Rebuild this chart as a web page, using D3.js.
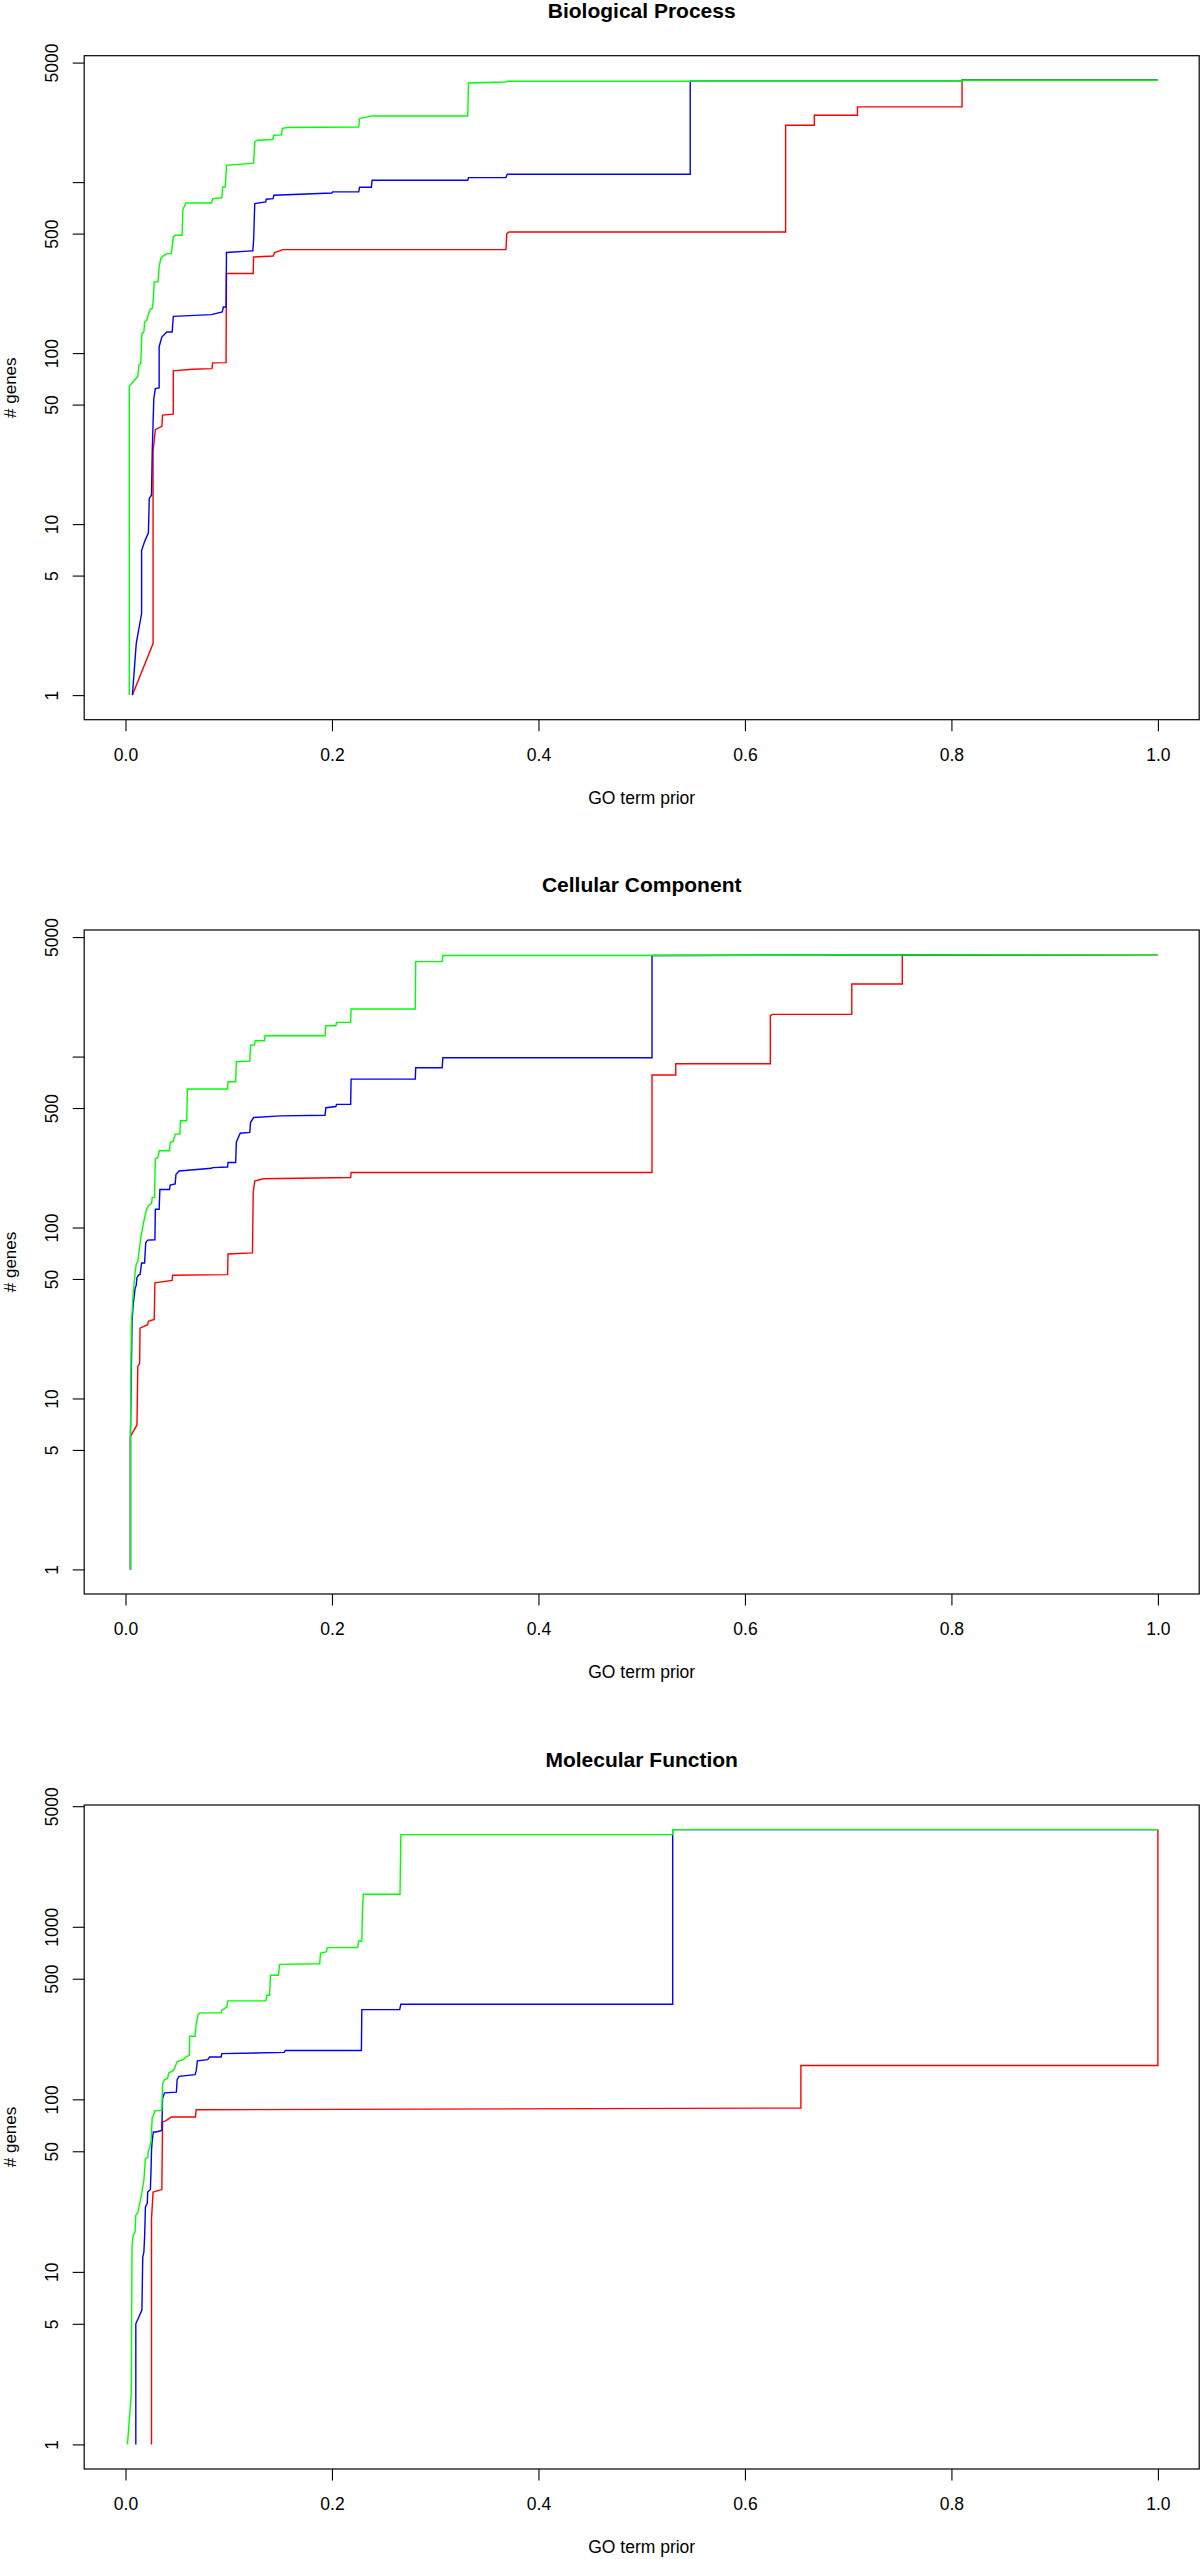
<!DOCTYPE html>
<html><head><meta charset="utf-8">
<script src="https://cdn.jsdelivr.net/npm/d3@7"></script>
<style>
body{margin:0;background:#fff}
svg text{font-family:"Liberation Sans",Arial,Helvetica,sans-serif;fill:#000}
</style>
</head><body>
<svg id="chart" width="1200" height="2559"></svg>
<script>
// ---------- text / ticks ----------
const panelTitles = ["Biological Process", "Cellular Component", "Molecular Function"];
const xAxisTitle = "GO term prior";
const yAxisTitle = "# genes";
const xTickValues = [0, 0.2, 0.4, 0.6, 0.8, 1.0];
const xTickLabels = ["0.0", "0.2", "0.4", "0.6", "0.8", "1.0"];
const yTickValues = [1, 5, 10, 50, 100, 500, 1000, 5000];
const yTickLabelsBP = ["1", "5", "10", "50", "100", "500", "", "5000"];
const yTickLabelsCC = ["1", "5", "10", "50", "100", "500", "", "5000"];
const yTickLabelsMF = ["1", "5", "10", "50", "100", "500", "1000", "5000"];
const seriesColors = ["#ff0000", "#0000ff", "#00ff00"]; // red, blue, green

// ---------- data: [GO term prior, # genes] ----------
// Biological Process
const bpRed = [[0.0067,1],[0.0267,2.0],[0.0267,26.5],[0.0289,35.7],[0.0352,37.3],[0.0359,43.4],[0.0463,44],[0.0463,78.7],[0.0648,80.5],[0.0837,81.2],[0.0844,87.7],[0.0974,88],[0.0978,292],[0.1237,292],[0.1241,365],[0.1430,370],[0.1444,387],[0.1511,400],[0.1519,403],[0.3685,403],[0.3693,500],[0.3715,511],[0.6394,511],[0.6394,2149],[0.6672,2149],[0.6672,2459],[0.709,2459],[0.709,2753],[0.8103,2753],[0.8103,3940],[1.0,3940]];
const bpBlue = [[0.0067,1],[0.0104,2.0],[0.0156,3.0],[0.0156,7.0],[0.0185,7.9],[0.0222,8.9],[0.023,14.1],[0.0252,14.8],[0.0259,26.5],[0.0267,38.7],[0.0274,54],[0.0289,62],[0.0326,62.6],[0.0326,109],[0.0352,124],[0.04,133],[0.0452,133],[0.0463,164],[0.0833,168],[0.0937,174],[0.0948,186],[0.0974,186],[0.0978,388],[0.1185,395],[0.1233,397],[0.1241,457],[0.1252,749],[0.1359,766],[0.1363,794],[0.1430,800],[0.1437,838],[0.2,864],[0.2007,877],[0.2259,877],[0.2267,933],[0.2381,933],[0.2389,1025],[0.3315,1025],[0.3322,1063],[0.3685,1063],[0.3693,1100],[0.3700,1111],[0.547,1111],[0.547,3891],[0.8103,3891],[0.8103,3940],[1.0,3940]];
const bpGreen = [[0.0037,1],[0.0037,64],[0.0074,68],[0.0119,73],[0.013,85],[0.0148,87],[0.0159,130],[0.0178,133],[0.0185,152],[0.0207,156],[0.0222,170],[0.0244,182],[0.0259,182],[0.027,208],[0.0278,261],[0.0315,261],[0.0326,319],[0.0341,357],[0.0363,369],[0.04,382],[0.0444,382],[0.0452,418],[0.0463,478],[0.0481,489],[0.0548,489],[0.0556,691],[0.0585,755],[0.0833,755],[0.0844,801],[0.0933,810],[0.0941,937],[0.0967,937],[0.0978,1254],[0.1185,1282],[0.1241,1290],[0.1252,1718],[0.1278,1757],[0.1426,1775],[0.1437,1880],[0.1511,1890],[0.1519,2056],[0.1556,2085],[0.2259,2102],[0.2267,2352],[0.2389,2438],[0.3315,2438],[0.3322,3801],[0.3685,3853],[0.3700,3891],[0.8103,3891],[0.8103,3940],[1.0,3940]];

// Cellular Component
const ccRed = [[0.0048,1],[0.0048,6.0],[0.0111,7.0],[0.0119,15.4],[0.0137,16],[0.0141,25.8],[0.0215,27],[0.0222,28.3],[0.0278,29],[0.0285,47.5],[0.0452,49],[0.0456,52.6],[0.0989,53],[0.0993,70],[0.123,71],[0.1237,160],[0.1252,187],[0.1333,193],[0.2181,196],[0.2185,210],[0.51,210],[0.51,780],[0.533,780],[0.533,908],[0.6246,908],[0.6246,1735],[0.6265,1766],[0.7035,1766],[0.7035,2660],[0.7524,2660],[0.7524,3930],[1.0,3950]];
const ccBlue = [[0.0048,1],[0.0048,6.0],[0.0063,27.7],[0.0074,35],[0.0093,44],[0.0104,46],[0.0111,51],[0.013,53],[0.0141,53],[0.0156,62],[0.0185,62],[0.0196,81.5],[0.0215,84.4],[0.0285,84.8],[0.0289,128],[0.0326,128],[0.0333,167],[0.0426,167],[0.0433,177],[0.0481,180],[0.0489,205],[0.0519,214],[0.0833,222],[0.0844,224],[0.0989,226],[0.0993,240],[0.1067,240],[0.1074,317],[0.1111,356],[0.1204,360],[0.1211,411],[0.1241,440],[0.15,450],[0.1933,454],[0.1941,502],[0.2037,510],[0.2044,525],[0.2181,525],[0.2185,738],[0.2807,738],[0.2811,860],[0.3067,860],[0.3074,984],[0.51,984],[0.51,3905],[0.7524,3930],[1.0,3950]];
const ccGreen = [[0.0048,1],[0.0048,6.0],[0.0056,26.4],[0.0074,41],[0.0093,54],[0.0104,61],[0.0119,63],[0.0148,87],[0.0178,109],[0.0204,128],[0.023,136],[0.0252,138],[0.0259,150],[0.0281,150],[0.0289,251],[0.0315,258],[0.0326,281],[0.0426,281],[0.0433,314],[0.0463,320],[0.0481,352],[0.0526,352],[0.0533,421],[0.0593,421],[0.06,646],[0.0989,646],[0.0993,713],[0.1067,713],[0.1074,933],[0.1204,940],[0.1211,1167],[0.1248,1167],[0.1256,1238],[0.1344,1238],[0.1352,1325],[0.1933,1325],[0.1941,1515],[0.2037,1515],[0.2044,1585],[0.2181,1585],[0.2185,1897],[0.2807,1897],[0.2811,3594],[0.3067,3594],[0.3074,3899],[0.51,3905],[0.7524,3930],[1.0,3950]];

// Molecular Function
const mfRed = [[0.0252,1],[0.0252,20.3],[0.0267,29],[0.0352,30],[0.0359,74],[0.0389,75],[0.0444,79],[0.0678,79],[0.0685,87],[0.6542,89],[0.6542,157],[1.0,157],[1.0,3659]];
const mfBlue = [[0.01,1],[0.01,5],[0.0159,6.0],[0.0167,12.2],[0.0178,13],[0.0185,15.9],[0.0193,23.8],[0.0211,25],[0.0215,29],[0.0241,30],[0.0248,40],[0.0252,50.6],[0.0259,57.8],[0.027,64.7],[0.0296,64.7],[0.0352,66],[0.0359,101],[0.0378,109],[0.0493,110],[0.05,130],[0.0519,136],[0.0674,139],[0.0685,146],[0.0696,167],[0.0796,170],[0.0815,176],[0.0926,176],[0.0933,184],[0.1537,187],[0.1548,192],[0.2285,192],[0.2289,331],[0.2656,331],[0.2667,356],[0.53,356],[0.53,3659],[1.0,3659]];
const mfGreen = [[0.0019,1],[0.0056,1.97],[0.0063,13.9],[0.0074,16.3],[0.0093,17],[0.01,21.3],[0.0119,22],[0.0148,26.6],[0.0178,33.9],[0.0193,45.3],[0.0215,46],[0.0222,50.6],[0.0233,51.8],[0.0248,57.8],[0.0259,79],[0.027,80],[0.0285,86],[0.0352,86],[0.0359,123],[0.0378,130],[0.0407,132],[0.0419,142],[0.0463,147],[0.0474,151],[0.05,165],[0.0574,172],[0.0585,176],[0.0619,180],[0.0622,232],[0.0674,232],[0.0685,275],[0.0704,311],[0.0722,317],[0.0926,317],[0.0933,328],[0.0981,343],[0.0993,372],[0.1359,372],[0.137,401],[0.1396,401],[0.1404,524],[0.1481,524],[0.1493,606],[0.1881,611],[0.1889,705],[0.1944,715],[0.1956,757],[0.2248,757],[0.2259,828],[0.2289,828],[0.2296,1274],[0.2304,1543],[0.2659,1543],[0.2667,3420],[0.53,3420],[0.53,3659],[1.0,3659]];

// ---------- layout ----------
const svg = d3.select("#chart");
const plotLeft = 84.2, plotRight = 1199.2, plotHeight = 664;
const panelTops = [55.7, 930, 1805];
const panels = [
  {title: panelTitles[0], series: [bpRed, bpBlue, bpGreen], yLabels: yTickLabelsBP},
  {title: panelTitles[1], series: [ccRed, ccBlue, ccGreen], yLabels: yTickLabelsCC},
  {title: panelTitles[2], series: [mfRed, mfBlue, mfGreen], yLabels: yTickLabelsMF}
];

const x = d3.scaleLinear().domain([-0.04, 1.04]).range([plotLeft, plotRight]);

panels.forEach((p, i) => {
  const top = panelTops[i], bottom = top + plotHeight;
  const maxV = d3.max(p.series.flat(), d => d[1]);
  const L = Math.log10(maxV);
  const y = d3.scaleLog().domain([Math.pow(10, -0.04 * L), Math.pow(10, 1.04 * L)]).range([bottom, top]);
  const g = svg.append("g");

  // series
  const line = d3.line().x(d => x(d[0])).y(d => y(d[1]));
  p.series.forEach((s, k) => {
    g.append("path").datum(s).attr("d", line)
      .attr("fill", "none").attr("stroke", seriesColors[k])
      .attr("stroke-width", 1.4).attr("stroke-linejoin", "miter");
  });

  // x axis
  const xa = g.append("g").attr("transform", `translate(0,${bottom})`)
    .call(d3.axisBottom(x).tickValues(xTickValues).tickFormat((d, j) => xTickLabels[j]).tickSize(11.5));
  xa.select(".domain").remove();
  xa.selectAll(".tick line").attr("stroke", "#000").attr("stroke-width", 1.1);
  xa.selectAll(".tick text").attr("y", 41).attr("dy", null)
    .attr("font-size", 17.5).attr("fill", "#000");

  // y axis
  const ya = g.append("g").attr("transform", `translate(${plotLeft},0)`)
    .call(d3.axisLeft(y).tickValues(yTickValues).tickFormat((d, j) => p.yLabels[j]).tickSize(11.5));
  ya.select(".domain").remove();
  ya.selectAll(".tick line").attr("stroke", "#000").attr("stroke-width", 1.1);
  ya.selectAll(".tick text").attr("x", null).attr("dy", null)
    .attr("transform", "translate(-26,0) rotate(-90)")
    .attr("text-anchor", "middle").attr("font-size", 17.5).attr("fill", "#000");

  // box
  g.append("rect").attr("x", plotLeft).attr("y", top)
    .attr("width", plotRight - plotLeft).attr("height", plotHeight)
    .attr("fill", "none").attr("stroke", "#000").attr("stroke-width", 1.2);

  // titles
  const cx = (plotLeft + plotRight) / 2;
  g.append("text").attr("x", cx).attr("y", top - 38).attr("text-anchor", "middle")
    .attr("font-size", 21).attr("font-weight", "bold").text(p.title);
  g.append("text").attr("x", cx).attr("y", bottom + 84).attr("text-anchor", "middle")
    .attr("font-size", 17.5).text(xAxisTitle);
  g.append("text").attr("transform", `translate(15.5,${(top + bottom) / 2}) rotate(-90)`)
    .attr("text-anchor", "middle").attr("font-size", 17).text(yAxisTitle);
});
</script>
</body></html>
